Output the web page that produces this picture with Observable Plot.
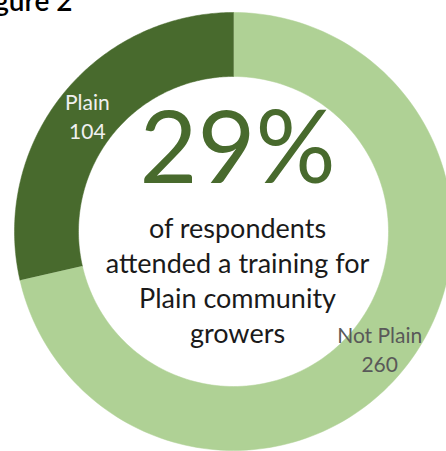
<!DOCTYPE html>
<html><head><meta charset="utf-8">
<script src="https://cdn.jsdelivr.net/npm/d3@7"></script>
<script src="https://cdn.jsdelivr.net/npm/@observablehq/plot@0.6"></script>
<style>body{margin:0;background:#fff;overflow:hidden} svg{display:block}</style>
</head><body><div id="chart"></div>
<script>
// ---- data ----
const categories = ["Not Plain", "Plain"];
const counts = [260, 104];
const colors = ["#AFD195", "#486A2D"];
const labelColors = ["#595959", "#F0F0F0"];
const headline = "29%";
const captionLines = ["of respondents", "attended a training for", "Plain community", "growers"];
const title = "Figure 2";

// ---- layout ----
const W = 446, H = 451;
const CX = 233, CY = 231;          // donut centre in pixels
const R_OUT = 219, R_IN = 155;
const FONT = "Lato, 'Open Sans', sans-serif";

const total = d3.sum(counts);
let acc = 0;
const slices = categories.map((c, i) => {
  const a0 = acc / total * 2 * Math.PI; acc += counts[i];
  const a1 = acc / total * 2 * Math.PI;
  return {category: c, count: counts[i], a0, a1, color: labelColors[i]};
});
const ring = [];
for (const s of slices) {
  const n = 160;
  for (let k = 0; k <= n; k++) { const a = s.a0 + (s.a1 - s.a0) * k / n; ring.push({category: s.category, x: R_OUT * Math.sin(a), y: R_OUT * Math.cos(a)}); }
  for (let k = n; k >= 0; k--) { const a = s.a0 + (s.a1 - s.a0) * k / n; ring.push({category: s.category, x: R_IN * Math.sin(a), y: R_IN * Math.cos(a)}); }
}
const rMid = (R_OUT + R_IN) / 2;
const labels = slices.map(s => {
  const a = (s.a0 + s.a1) / 2;
  return {text: `${s.category}\n${s.count}`, x: rMid * Math.sin(a), y: rMid * Math.cos(a), color: s.color};
});

const lineStep = 35, capSize = 27, headSize = 100;
const firstBaseline = 237 - CY;   // pixel offset from centre
const caption = captionLines.map((t, i) => ({text: t, x: 4, y: -(firstBaseline + i * lineStep - 0.32 * capSize)}));

const plot = Plot.plot({
  width: W, height: H,
  marginTop: 0, marginRight: 0, marginBottom: 0, marginLeft: 0,
  x: {domain: [-CX, W - CX], axis: null},
  y: {domain: [CY - H, CY], axis: null},
  color: {domain: categories, range: colors},
  style: {fontFamily: FONT, background: "#fff"},
  marks: [
    Plot.line(ring, {x: "x", y: "y", z: "category", fill: "category", stroke: "category", strokeWidth: 0.5}),
    Plot.text(labels, {x: "x", y: "y", text: "text", fill: "color", fontSize: 21, lineHeight: 1.4}),
    Plot.text([headline], {x: [4], y: [-(182 - CY - 0.32 * headSize)], text: d => d, fill: "#486A2D", fontSize: headSize}),
    Plot.text(caption, {x: "x", y: "y", text: "text", fill: "#1a1a1a", fontSize: capSize}),
    Plot.text([title], {x: [72 - CX], y: [CY - 10 + 0.32 * 28], text: d => d, textAnchor: "end", fill: "#000", fontSize: 28, fontWeight: 600})
  ]
});
document.getElementById("chart").append(plot);
</script></body></html>
